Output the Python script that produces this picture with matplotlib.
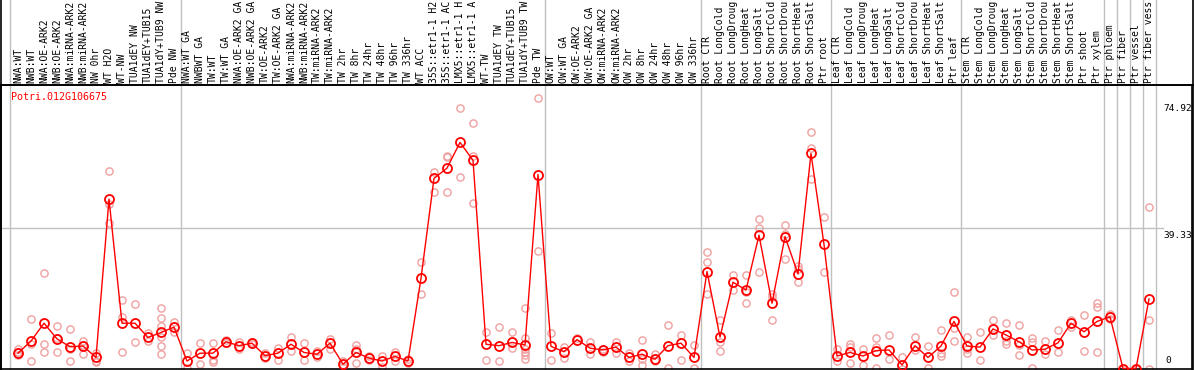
import numpy as np
import matplotlib
matplotlib.use('Agg')
import matplotlib.pyplot as plt
from matplotlib.transforms import blended_transform_factory
from matplotlib.lines import Line2D

# sample labels, in plot order
labels = [
    'NWA:WT', 'NWB:WT', 'NWA:OE-ARK2', 'NWB:OE-ARK2', 'NWA:miRNA-ARK2',
    'NWB:miRNA-ARK2', 'NW 0hr', 'WT H2O', 'WT-NW', 'TUA1dEY NW',
    'TUA1dEY+TUB15 NW', 'TUA1dY+TUB9 NW', 'Pde NW',
    'NWA:WT GA', 'NWBWT GA', 'TW:WT', 'TW:WT GA', 'NWA:OE-ARK2 GA',
    'NWB:OE-ARK2 GA', 'TW:OE-ARK2', 'TW:OE-ARK2 GA', 'NWA:miRNA-ARK2',
    'NWB:miRNA-ARK2', 'TW:miRNA-ARK2', 'TW:miRNA-ARK2', 'TW 2hr', 'TW 8hr',
    'TW 24hr', 'TW 48hr', 'TW 96hr', 'TW 336hr', 'WT ACC',
    '35S::etr1-1 H2O', '35S::etr1-1 ACC', 'LMX5::etr1-1 H2O',
    'LMX5::etr1-1 ACC', 'WT-TW', 'TUA1dEY TW', 'TUA1dEY+TUB15 TW',
    'TUA1dY+TUB9 TW', 'Pde TW',
    'OW:WT', 'OW:WT GA', 'OW:OE-ARK2', 'OW:OE-ARK2 GA', 'OW:miRNA-ARK2',
    'OW:miRNA-ARK2', 'OW 2hr', 'OW 8hr', 'OW 24hr', 'OW 48hr', 'OW 96hr',
    'OW 336hr',
    'Root CTR', 'Root LongCold', 'Root LongDrought', 'Root LongHeat',
    'Root LongSalt', 'Root ShortCold', 'Root ShortDrought', 'Root ShortHeat',
    'Root ShortSalt', 'Ptr root',
    'Leaf CTR', 'Leaf LongCold', 'Leaf LongDrought', 'Leaf LongHeat',
    'Leaf LongSalt', 'Leaf ShortCold', 'Leaf ShortDrought', 'Leaf ShortHeat',
    'Leaf ShortSalt', 'Ptr leaf',
    'Stem CTR', 'Stem LongCold', 'Stem LongDrought', 'Stem LongHeat',
    'Stem LongSalt', 'Stem ShortCold', 'Stem ShortDrought', 'Stem ShortHeat',
    'Stem ShortSalt', 'Ptr shoot', 'Ptr xylem',
    'Ptr phloem', 'Ptr fiber', 'Ptr vessel', 'Ptr fiber vessel',
]

means = [
    4.3, 7.7, 12.7, 8.3, 6.1, 6.3, 3.1, 47.5, 12.7, 12.7, 8.7, 10.1, 11.6,
    2.1, 4.3, 4.3, 7.5, 6.4, 7.1, 3.6, 4.3, 6.8, 4.5, 4.0, 7.1, 1.2, 4.5,
    2.9, 2.1, 3.4, 2.1, 25.3, 53.3, 56.2, 63.4, 58.4, 6.8, 6.4, 7.3, 6.6,
    54.4,
    6.2, 4.7, 8.1, 5.7, 5.2, 6.0, 3.1, 4.0, 2.6, 6.4, 7.1, 3.1,
    27.2, 8.8, 24.2, 22.0, 37.4, 18.3, 37.0, 26.5, 60.3, 34.8,
    3.5, 4.5, 3.5, 5.0, 5.2, 1.0, 6.4, 3.1, 6.3, 13.2,
    6.3, 6.0, 11.1, 9.4, 7.5, 5.2, 5.4, 7.2, 12.7, 10.3, 13.2,
    14.5, 0.0, 0.0, 19.5,
]

replicates = [
    [5.5, 3.8, 4.5], [13.8, 2.1, 7.0], [26.7, 6.8, 4.7], [11.9, 4.7, 8.5],
    [11.0, 2.1, 5.5], [7.8, 4.0, 6.5], [4.3, 2.1, 1.8], [55.4, 40.7, 46.0],
    [19.2, 14.4, 4.7], [18.1, 7.3], [9.9, 7.7],
    [17.1, 14.3, 12.0, 8.9, 6.4, 4.0], [13.1, 10.1],
    [4.3, 0.2], [7.1, 1.2], [7.1, 2.4, 1.9], [8.0, 7.1], [7.5, 5.6],
    [7.5, 6.8], [4.3, 3.0], [5.8, 2.4], [8.9, 4.9], [7.1, 2.3], [4.9, 3.3],
    [8.3, 5.6], [2.1, 0.5], [6.6, 5.6, 1.5], [3.4, 2.4], [3.6, 0.3],
    [4.7, 2.1], [2.6, 1.5], [29.8, 20.8], [55.0, 49.6], [59.4, 49.6, 59.7],
    [73.0, 53.6], [68.8, 59.7, 46.3], [10.3, 2.3], [11.6, 2.0], [10.1, 5.8],
    [17.1, 8.5, 5.6, 4.7, 3.7, 2.8], [75.8, 32.9],
    [9.9, 2.5], [6.1, 3.0], [8.6], [7.5, 4.0], [5.6, 4.7], [7.5, 4.3],
    [4.3, 2.1], [7.9, 2.7, 1.0], [4.0, 2.1], [12.3, 0.2], [9.4, 2.5],
    [6.6, 0.2],
    [32.8, 30.0, 20.8], [13.7, 7.5, 5.0], [26.2, 22.0], [26.2, 21.5, 18.3],
    [41.9, 39.5, 27.2], [20.8, 20.0, 13.6], [40.2, 37.6, 30.7],
    [28.8, 28.0, 24.2], [66.2, 61.8, 53.1], [42.4, 27.1],
    [5.6, 2.1], [6.8, 6.1, 1.5], [5.6, 1.0], [8.6, 6.1, 0.2], [9.4, 2.6],
    [3.3, 0.0], [8.7, 5.2], [6.4, 0.2], [10.8, 4.3, 3.6], [21.4, 11.3, 7.8],
    [8.9, 5.6, 4.3], [10.3, 2.4], [13.6, 9.4], [12.7, 7.8, 6.8],
    [12.3, 6.6, 3.9], [8.6, 7.5, 0.2], [7.8, 4.0], [10.8, 4.7], [13.6, 11.7],
    [15.0, 4.9], [18.3, 17.2, 4.5],
    [15.4, 13.8], [0.0], [0.0], [45.2, 13.6, 0.0],
]

# group separators (between samples, 1-based positions)
separators = [0.4, 13.5, 41.5, 53.5, 63.5, 73.5, 84.5, 85.5, 86.5, 87.5, 88.5]
ytick_vals = [74.92, 39.33]
gene = 'Potri.012G106675'

W, H = 1194, 370
fig = plt.figure(figsize=(W / 100, H / 100), dpi=100)
fig.patch.set_facecolor('white')

# plot area in pixels: x 1..1192, y 85..369
ax = fig.add_axes([1 / W, 1 - 369 / H, 1191 / W, 284 / H])
ax.set_xlim(1 + (1 - 18) / 13, 1 + (1192 - 18) / 13)
ax.set_ylim(-0.14, 79.5)
ax.set_xticks([])
ax.set_yticks([])
for s in ax.spines.values():
    s.set_color('black')
    s.set_linewidth(1.2)

x = np.arange(1, len(means) + 1)
mono = 'DejaVu Sans Mono'

# separators run from top of figure to the bottom of plot
tr = blended_transform_factory(ax.transData, fig.transFigure)
for sx in separators:
    ax.plot([sx, sx], [1 - 369 / H, 1.0], color='#c0c0c0', lw=1.0,
            transform=tr, clip_on=False, zorder=0)

xr = 1 + (1163 - 18) / 13
ax.plot([ax.get_xlim()[0], xr], [39.33, 39.33], color='#c0c0c0', lw=1.0,
        zorder=0)

for xi, reps in zip(x, replicates):
    ax.plot([xi] * len(reps), reps, 'o', ms=5.2, mfc='none', mec='#f0a0a0',
            mew=1.0, zorder=2, clip_on=False)

ax.plot(x, means, '-', color='red', lw=1.0, zorder=3, clip_on=False)
ax.plot(x, means, 'o', ms=6.5, mfc='none', mec='red', mew=1.3, zorder=4,
        clip_on=False)

# y labels at right, inside plot
for v in ytick_vals:
    ax.text(xr, v - 0.8, f'{v:.2f}', ha='left', va='top', fontsize=6.8,
            family=mono, color='black')
ax.text(xr + 0.2, 0.9, '0', ha='left', va='bottom', fontsize=6.8,
        family=mono, color='black')

ax.text(9.5 / 1191, 1 - 7 / 284, gene, transform=ax.transAxes, ha='left',
        va='top', fontsize=7.2, family=mono, color='red')

# sample labels in header band (only ~14 characters fit, as in the original)
for xi, lab in zip(x, labels):
    ax.text(xi, 1 - 83 / H, lab[:14].rstrip(), rotation=90, ha='center',
            va='bottom', fontsize=7.0, family=mono, color='black',
            transform=tr, clip_on=False)

# black line under header and outer border
fig.add_artist(Line2D([0, 1], [1 - 85 / H, 1 - 85 / H], color='black',
                      lw=1.2, transform=fig.transFigure))
fig.add_artist(Line2D([1192.5 / W, 1192.5 / W], [0, 1], color='black',
                      lw=1.2, transform=fig.transFigure))
fig.add_artist(Line2D([1 / W, 1 / W], [0, 1], color='black',
                      lw=1.2, transform=fig.transFigure))

fig.savefig('out.png', dpi=100)
